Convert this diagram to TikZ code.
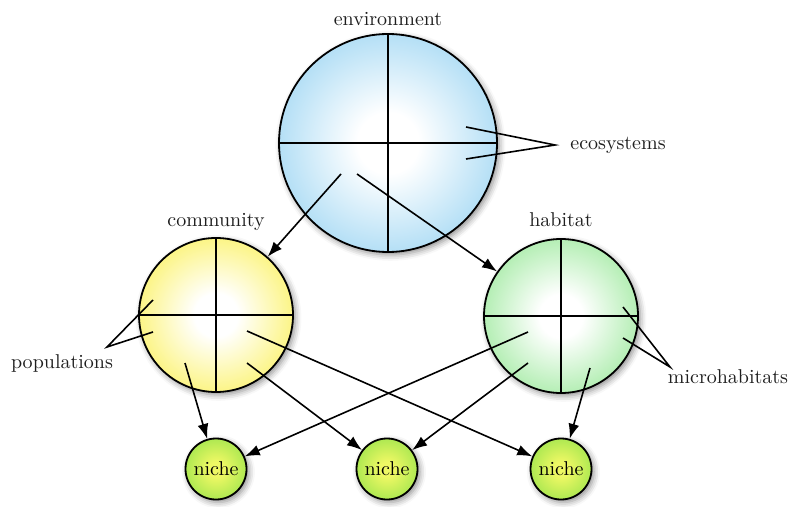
\documentclass[tikz,border=0pt]{standalone}
\usetikzlibrary{arrows.meta,shadows.blur}

\definecolor{envblue}{RGB}{135,204,240}
\definecolor{comyellow}{RGB}{250,238,60}
\definecolor{habgreen}{RGB}{135,228,135}
\definecolor{nichegreen}{RGB}{140,224,72}
\definecolor{nicheyellow}{RGB}{238,248,100}
\definecolor{inktext}{RGB}{30,30,30}

% radial fills that reach the outer colour at the rim of a circle
\pgfdeclareradialshading{envshade}{\pgfpointorigin}{color(0bp)=(white); color(7bp)=(white); color(36bp)=(envblue); color(50bp)=(envblue)}
\pgfdeclareradialshading{comshade}{\pgfpointorigin}{color(0bp)=(white); color(7bp)=(white); color(36bp)=(comyellow); color(50bp)=(comyellow)}
\pgfdeclareradialshading{habshade}{\pgfpointorigin}{color(0bp)=(white); color(7bp)=(white); color(36bp)=(habgreen); color(50bp)=(habgreen)}
\pgfdeclareradialshading{nicheshade}{\pgfpointorigin}{color(0bp)=(nicheyellow); color(6bp)=(nicheyellow); color(35bp)=(nichegreen); color(50bp)=(nichegreen)}

\tikzset{
  ball/.style={circle, draw=black, line width=0.9pt, inner sep=0pt,
    blur shadow={shadow xshift=1.2pt, shadow yshift=-1.4pt,
                 shadow blur radius=3pt, shadow opacity=45}},
  bigball/.style={ball, minimum size=109pt},
  midball/.style={ball, minimum size=77pt},
  nicheball/.style={ball, minimum size=30.5pt, shading=nicheshade, text=black},
  lbl/.style={text=inktext, anchor=base, inner sep=0pt},
  arr/.style={-{Latex[length=7.5pt,width=5.5pt]}, line width=0.8pt},
  tick/.style={line width=0.8pt},
}

\begin{document}
\begin{tikzpicture}[x=0.5pt, y=-0.5pt]
  \useasboundingbox (0,0) rectangle (790,507);

  % main circles
  \node[bigball, shading=envshade] (env) at (388,143) {};
  \node[midball, shading=comshade] (comm) at (216,315) {};
  \node[midball, shading=habshade] (hab) at (561,316) {};

  % niches
  \node[nicheball] (n1) at (216,469) {niche};
  \node[nicheball] (n2) at (387,469) {niche};
  \node[nicheball] (n3) at (561,469) {niche};

  % quadrant dividers
  \foreach \c in {env, comm, hab} {
    \draw[tick] (\c.north) -- (\c.south);
    \draw[tick] (\c.west) -- (\c.east);
  }

  % titles
  \node[lbl] (envlbl)  at (388,26)  {environment};
  \node[lbl] (commlbl) at (216,227) {community};
  \node[lbl] (hablbl)  at (561,227) {habitat};

  % side annotations
  \node[lbl] (ecolbl) at (618,150) {ecosystems};
  \node[lbl] (poplbl) at (62,368)  {populations};
  \node[lbl] (miclbl) at (728,383) {microhabitats};

  \coordinate (ecotip) at (555,145);
  \coordinate (poptip) at (107,347);
  \coordinate (mictip) at (670,367);

  \coordinate (eco1) at (466,127);
  \coordinate (eco2) at (466,159);
  \coordinate (pop1) at (153,300);
  \coordinate (pop2) at (153,332);
  \coordinate (mic1) at (623,307);
  \coordinate (mic2) at (623,338);

  \draw[tick] (eco1) -- (ecotip) -- (eco2);
  \draw[tick] (pop1) -- (poptip) -- (pop2);
  \draw[tick] (mic1) -- (mictip) -- (mic2);

  % arrow starting points inside the circles
  \coordinate (e1) at (341,174);
  \coordinate (e2) at (357,174);
  \coordinate (c1) at (185,363);
  \coordinate (c2) at (247,363);
  \coordinate (c3) at (247,331);
  \coordinate (h1) at (528,332);
  \coordinate (h2) at (528,363);
  \coordinate (h3) at (590,368);

  \draw[arr] (e1) -- (comm);
  \draw[arr] (e2) -- (hab);
  \draw[arr] (c1) -- (n1);
  \draw[arr] (c2) -- (n2);
  \draw[arr] (c3) -- (n3);
  \draw[arr] (h1) -- (n1);
  \draw[arr] (h2) -- (n2);
  \draw[arr] (h3) -- (n3);
\end{tikzpicture}
\end{document}
